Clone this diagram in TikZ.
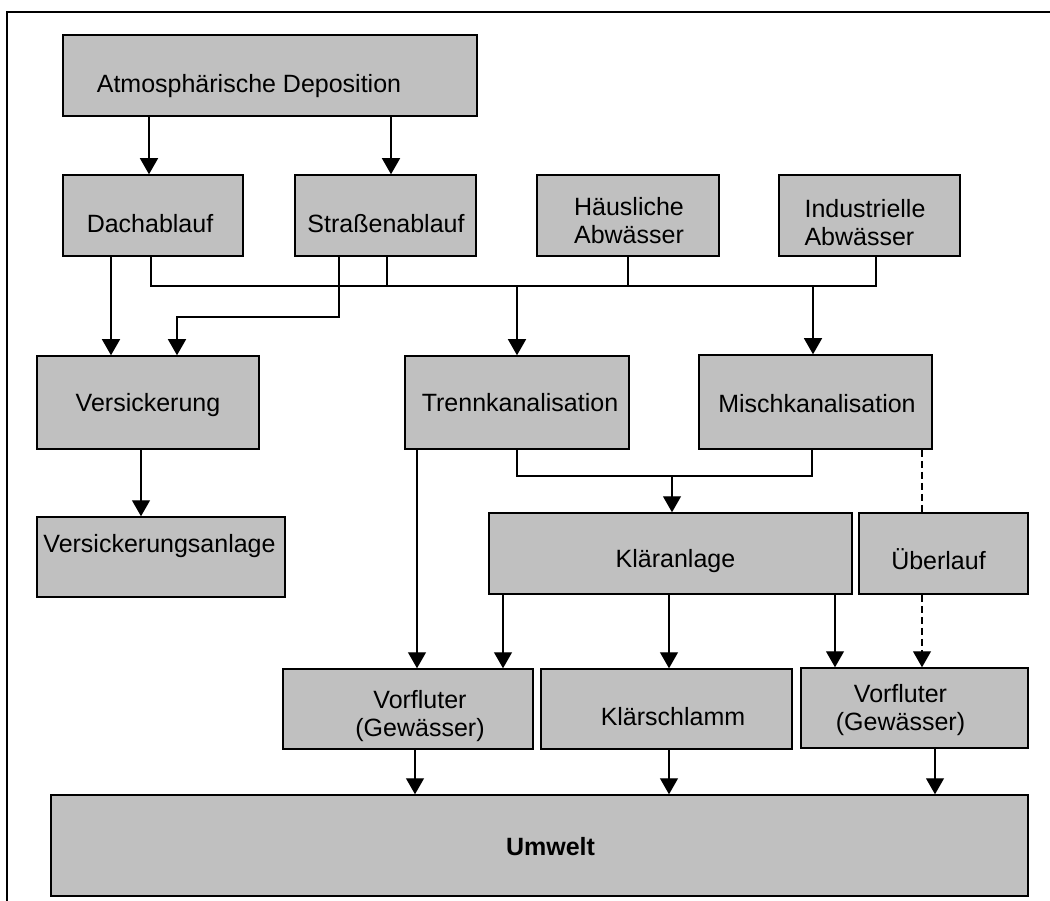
\documentclass[tikz,border=0pt]{standalone}
\usepackage{fontspec}
\setmainfont{Liberation Sans}
\usepackage{xcolor}
\usepackage{tikz}
\usetikzlibrary{arrows.meta}

\definecolor{boxgray}{RGB}{192,192,192}

\begin{document}
\begin{tikzpicture}[x=1pt, y=-1pt,
	box/.style={draw=black, line width=1.5pt, fill=boxgray, rectangle, inner sep=0pt},
	txt/.style={font=\fontsize{25}{28}\selectfont, inner sep=0pt},
	conn/.style={line width=1.2pt},
	arr/.style={conn, -{Triangle[width=18pt, length=16pt]}},
	dsh/.style={dash pattern=on 7pt off 4pt}]
			\useasboundingbox (0,0) rectangle (1050,901);
			\draw [line width=1.5pt] (7,12) rectangle (1058,910);
			% boxes
			\node [box, minimum width=414pt, minimum height=81pt] (atmos) at (270,75.5) {};
			\node [box, minimum width=180pt, minimum height=81pt] (dach) at (153,215.5) {};
			\node [box, minimum width=181pt, minimum height=81pt] (strasse) at (385.5,215.5) {};
			\node [box, minimum width=182pt, minimum height=81pt] (haus) at (628,215.5) {};
			\node [box, minimum width=181pt, minimum height=81pt] (indus) at (869.5,215.5) {};
			\node [box, minimum width=222pt, minimum height=93pt] (versick) at (148,402.5) {};
			\node [box, minimum width=224pt, minimum height=93pt] (trenn) at (517,402.5) {};
			\node [box, minimum width=233pt, minimum height=94pt] (misch) at (815.5,402) {};
			\node [box, minimum width=248pt, minimum height=80pt] (vanlage) at (161,557) {};
			\node [box, minimum width=363pt, minimum height=81pt] (klaer) at (670.5,553.5) {};
			\node [box, minimum width=169pt, minimum height=81pt] (ueber) at (943.5,553.5) {};
			\node [box, minimum width=250pt, minimum height=80pt] (vorfl1) at (408,709) {};
			\node [box, minimum width=251pt, minimum height=80pt] (schlamm) at (666.5,709) {};
			\node [box, minimum width=227pt, minimum height=80pt] (vorfl2) at (914.5,708) {};
			\node [box, minimum width=977pt, minimum height=101pt] (umwelt) at (539.5,845.5) {};
			% texts
			\node [txt] (atmos-t) at (249,86) {Atmosphärische Deposition};
			\node [txt] (dach-t) at (150,223.5) {Dachablauf};
			\node [txt] (strasse-t) at (386,223.5) {Straßenablauf};
			\node [txt, align=left] (haus-t) at (629,221) {Häusliche\\Abwässer};
			\node [txt, align=left] (indus-t) at (865,222.5) {Industrielle\\Abwässer};
			\node [txt] (versick-t) at (148,405.5) {Versickerung};
			\node [txt] (trenn-t) at (520,403) {Trennkanalisation};
			\node [txt] (misch-t) at (817,403.5) {Mischkanalisation};
			\node [txt] (vanlage-t) at (159.5,546) {Versickerungsanlage};
			\node [txt] (klaer-t) at (675.5,561) {Kläranlage};
			\node [txt] (ueber-t) at (938.5,559) {Überlauf};
			\node [txt, align=center] (vorfl1-t) at (420,716) {Vorfluter\\(Gewässer)};
			\node [txt] (schlamm-t) at (673,717) {Klärschlamm};
			\node [txt, align=center] (vorfl2-t) at (900.5,710.5) {Vorfluter\\(Gewässer)};
			\node [txt, font=\fontsize{25}{28}\selectfont\bfseries] (umwelt-t) at (550.5,847) {Umwelt};
			% helper levels
			\coordinate (bus) at (0,286);
			\coordinate (sk) at (0,317);
			\coordinate (kj) at (0,476);
			% deposition
			\draw [arr] ([xshift=-4pt]dach.north |- atmos.south) -- ([xshift=-4pt]dach.north);
			\draw [arr] ([xshift=5.5pt]strasse.north |- atmos.south) -- ([xshift=5.5pt]strasse.north);
			% collecting line
			\draw [conn] ([xshift=-2pt]dach.south) -- ([xshift=-2pt]dach.south |- bus) -- ([xshift=6.5pt]indus.south |- bus) -- ([xshift=6.5pt]indus.south);
			\draw [conn] ([xshift=1.5pt]strasse.south) -- ([xshift=1.5pt]strasse.south |- bus);
			\draw [conn] (haus.south) -- (haus.south |- bus);
			\draw [arr] (trenn.north |- bus) -- (trenn.north);
			\draw [arr] ([xshift=-2.5pt]misch.north |- bus) -- ([xshift=-2.5pt]misch.north);
			% Versickerung
			\draw [arr] ([xshift=-42pt]dach.south) -- ([xshift=-42pt]dach.south |- versick.north);
			\draw [arr] ([xshift=-46.5pt]strasse.south) |- ([xshift=29pt]versick.north |- sk) -- ([xshift=29pt]versick.north);
			\draw [arr] ([xshift=-7pt]versick.south) -- ([xshift=-7pt]versick.south |- vanlage.north);
			% Kanalisation
			\draw [conn] (trenn.south) |- ([xshift=-3.5pt]misch.south |- kj) -- ([xshift=-3.5pt]misch.south);
			\draw [arr] ([xshift=1.5pt]klaer.north |- kj) -- ([xshift=1.5pt]klaer.north);
			\draw [arr] ([xshift=-100pt]trenn.south) -- ([xshift=-100pt]trenn.south |- vorfl1.north);
			\draw [conn, dsh] ([xshift=106.5pt]misch.south) -- ([xshift=106.5pt]misch.south |- ueber.north);
			\draw [arr, dsh] ([xshift=-21.5pt]ueber.south) -- ([xshift=-21.5pt]ueber.south |- vorfl2.north);
			% Klaeranlage
			\draw [arr] ([xshift=-167.5pt]klaer.south) -- ([xshift=-167.5pt]klaer.south |- vorfl1.north);
			\draw [arr] ([xshift=-1.5pt]klaer.south) -- ([xshift=-1.5pt]klaer.south |- schlamm.north);
			\draw [arr] ([xshift=164.5pt]klaer.south) -- ([xshift=164.5pt]klaer.south |- vorfl2.north);
			% Umwelt
			\draw [arr] ([xshift=7pt]vorfl1.south) -- ([xshift=7pt]vorfl1.south |- umwelt.north);
			\draw [arr] ([xshift=2.5pt]schlamm.south) -- ([xshift=2.5pt]schlamm.south |- umwelt.north);
			\draw [arr] ([xshift=20.5pt]vorfl2.south) -- ([xshift=20.5pt]vorfl2.south |- umwelt.north);
		\end{tikzpicture}
\end{document}
